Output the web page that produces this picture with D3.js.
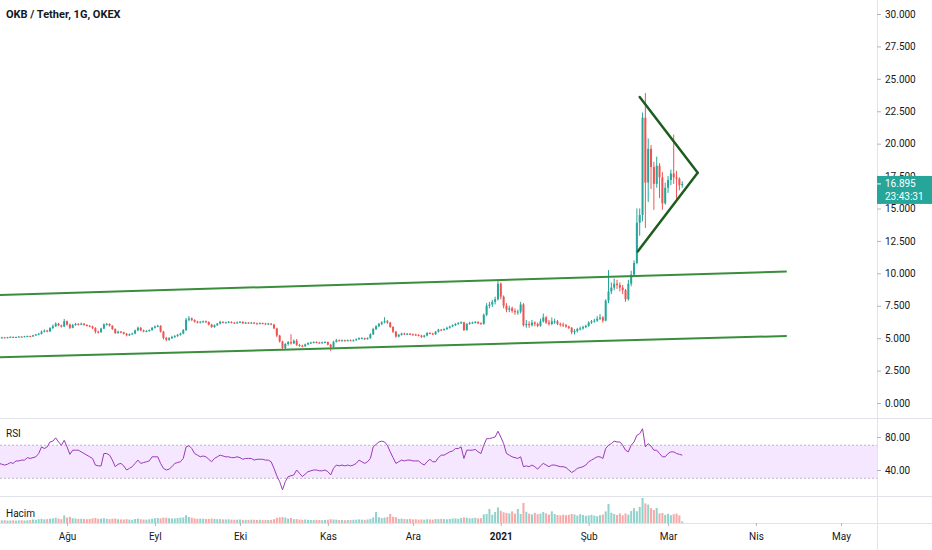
<!DOCTYPE html>
<html><head><meta charset="utf-8">
<script src="https://cdn.jsdelivr.net/npm/d3@7"></script>
<style>body{margin:0;background:#fff}svg{display:block}</style>
</head><body>
<svg id="c" width="932" height="550"></svg>
<script>
// ---------- data ----------
const title = "OKB / Tether, 1G, OKEX";
const startDate = "2020-07-08";
const firstOpen = 5.10;
const closes = [
5.02,5.06,5.03,5.07,5.10,5.06,5.09,5.12,5.10,5.14,
5.16,5.13,5.22,5.28,5.34,5.50,5.58,5.52,5.78,5.92,
6.12,5.98,5.90,6.30,6.05,5.80,6.02,6.10,6.06,6.12,
6.02,5.96,5.90,5.78,5.50,5.46,5.74,6.06,6.10,5.96,
5.70,5.40,5.50,5.45,5.34,5.22,5.30,5.36,5.60,5.80,
5.60,5.52,5.56,5.62,5.80,5.90,5.95,5.50,5.02,4.88,
5.00,5.10,5.16,5.26,5.36,5.62,6.42,6.52,6.40,6.28,
6.20,6.26,6.30,6.24,6.05,5.86,6.00,6.12,6.26,6.20,
6.22,6.26,6.20,6.16,6.22,6.26,6.14,6.20,6.16,6.20,
6.14,6.12,6.16,6.14,6.10,6.12,6.05,5.75,5.20,4.75,
4.25,4.55,4.70,4.60,4.80,4.48,4.42,4.38,4.52,4.62,
4.66,4.70,4.66,4.64,4.68,4.70,4.50,4.32,4.72,4.84,
4.80,4.84,4.80,4.84,4.82,4.84,4.92,5.00,5.00,4.92,
5.00,5.30,5.70,5.92,6.10,6.22,6.30,6.20,5.86,5.50,
5.12,5.26,5.36,5.30,5.34,5.30,5.28,5.25,5.20,5.10,
5.20,5.40,5.36,5.30,5.50,5.66,5.62,5.70,5.80,5.90,
6.00,6.10,6.16,6.22,5.62,6.10,6.18,6.20,6.25,6.15,
6.10,6.80,7.50,7.60,7.80,8.00,9.20,8.20,7.50,7.20,
7.30,7.10,7.00,7.05,7.60,6.00,6.10,6.00,6.20,6.10,
5.95,6.30,6.60,6.20,6.10,6.30,6.30,6.10,6.05,6.00,
5.90,5.80,5.45,5.55,5.70,5.75,5.85,5.95,6.20,6.30,
6.35,6.50,6.60,6.35,7.90,8.60,8.90,9.20,9.10,8.90,
8.70,8.00,9.20,9.90,10.80,13.90,14.50,22.00,17.00,19.60,
18.20,16.90,18.30,17.40,15.40,16.60,17.20,17.70,17.40,17.30,
16.80,16.895];
const highs = [
5.14,5.10,5.09,5.10,5.14,5.13,5.12,5.16,5.15,5.18,
5.20,5.19,5.26,5.33,5.40,5.60,5.68,5.64,5.85,6.05,
6.22,6.18,6.04,6.48,6.36,6.12,6.10,6.18,6.16,6.20,
6.16,6.08,6.02,5.96,5.84,5.58,5.80,6.14,6.18,6.14,
6.00,5.76,5.58,5.56,5.50,5.40,5.36,5.42,5.66,5.90,
5.86,5.66,5.62,5.68,5.86,5.98,6.04,6.00,5.56,5.10,
5.08,5.18,5.24,5.32,5.42,5.70,6.56,6.70,6.60,6.46,
6.34,6.32,6.36,6.36,6.30,6.10,6.06,6.18,6.34,6.30,
6.28,6.32,6.30,6.24,6.28,6.32,6.30,6.26,6.24,6.26,
6.24,6.20,6.22,6.20,6.18,6.18,6.16,6.10,5.80,5.26,
4.80,4.62,4.78,5.30,4.90,4.94,4.56,4.50,4.58,4.68,
4.72,4.76,4.76,4.72,4.74,4.76,4.74,4.56,4.80,4.94,
4.90,4.90,4.88,4.90,4.90,4.90,4.98,5.06,5.08,5.04,
5.06,5.38,5.80,6.00,6.18,6.30,6.62,6.40,6.26,5.92,
5.56,5.32,5.42,5.42,5.40,5.40,5.36,5.34,5.30,5.26,
5.26,5.46,5.46,5.42,5.56,5.72,5.72,5.76,5.88,5.96,
6.06,6.16,6.24,6.30,6.26,6.16,6.26,6.28,6.32,6.30,
6.22,6.90,7.70,7.80,7.96,8.20,9.40,9.30,8.30,7.70,
7.50,7.44,7.30,7.20,7.80,7.70,6.40,6.30,6.40,6.30,
6.20,6.50,6.90,6.70,6.40,6.60,6.50,6.40,6.20,6.20,
6.10,5.96,5.86,5.70,5.80,5.90,5.96,6.04,6.30,6.40,
6.50,6.70,6.86,6.70,8.00,10.25,9.30,9.60,9.50,9.30,
9.10,8.80,9.50,10.20,11.00,15.00,15.00,22.40,23.90,20.40,
19.90,18.60,19.00,18.50,17.80,17.00,17.50,18.00,20.70,17.90,
17.40,17.10];
const lows = [
4.98,4.99,5.00,5.00,5.03,5.03,5.03,5.06,5.06,5.08,
5.10,5.09,5.10,5.18,5.22,5.28,5.44,5.45,5.48,5.70,
5.86,5.92,5.82,5.86,5.96,5.70,5.76,5.96,5.98,6.00,
5.96,5.90,5.84,5.70,5.36,5.36,5.42,5.70,5.98,5.90,
5.64,5.32,5.34,5.38,5.28,5.14,5.16,5.26,5.30,5.54,
5.54,5.46,5.46,5.50,5.58,5.74,5.84,5.44,4.90,4.76,
4.80,4.94,5.02,5.10,5.20,5.30,5.56,6.30,6.32,6.20,
6.14,6.14,6.20,6.18,5.98,5.80,5.80,5.94,6.06,6.14,
6.14,6.16,6.14,6.10,6.12,6.18,6.10,6.10,6.10,6.12,
6.08,6.06,6.08,6.08,6.04,6.04,6.00,5.70,5.08,4.66,
4.08,4.14,4.42,4.50,4.54,4.40,4.34,4.30,4.32,4.46,
4.56,4.60,4.60,4.58,4.58,4.62,4.44,4.02,4.26,4.66,
4.74,4.74,4.74,4.76,4.76,4.76,4.80,4.86,4.92,4.86,
4.88,4.96,5.24,5.62,5.84,6.00,6.14,6.10,5.80,5.40,
5.04,5.06,5.20,5.24,5.24,5.24,5.20,5.18,5.14,5.02,
5.04,5.14,5.30,5.24,5.26,5.44,5.56,5.58,5.64,5.74,
5.84,5.94,6.04,6.10,5.56,5.58,6.04,6.10,6.14,6.08,
6.04,6.04,6.70,7.30,7.40,7.60,7.90,8.00,7.30,7.00,
7.00,6.96,6.80,6.80,6.90,5.90,5.80,5.80,5.90,5.92,
5.84,5.88,6.20,6.10,5.96,6.00,6.10,6.00,5.90,5.86,
5.80,5.70,5.30,5.28,5.44,5.60,5.66,5.76,5.88,6.10,
6.20,6.26,6.40,6.20,6.30,7.70,8.40,8.70,8.80,8.60,
8.40,7.80,7.90,9.00,9.70,10.70,12.90,14.00,13.50,15.50,
16.50,14.90,16.60,15.80,14.90,15.30,16.20,16.80,16.90,15.70,
16.40,16.60];
const volumes = [
3.0,2.6,2.8,2.4,2.5,2.7,2.3,2.6,2.8,2.5,
2.7,2.9,3.5,3.2,3.8,4.2,3.6,3.9,4.3,4.6,
5.2,4.4,3.8,7.6,5.4,6.2,4.8,4.5,4.0,4.3,
4.1,3.8,4.0,4.6,5.0,4.2,4.4,4.8,4.2,3.9,
4.3,4.6,3.8,3.6,3.5,3.9,3.4,3.2,4.0,4.4,
3.8,3.5,3.4,3.7,4.2,4.8,5.0,4.6,5.4,5.2,
4.8,4.5,4.6,5.0,5.3,5.6,7.8,6.0,5.2,4.6,
4.2,4.4,4.3,4.0,4.1,4.5,4.0,3.8,3.9,3.6,
3.5,3.7,3.4,3.2,3.3,3.6,3.0,3.2,3.1,3.4,
3.2,3.0,3.3,2.9,3.1,3.0,3.2,3.8,5.2,5.6,
6.0,5.4,4.4,5.0,3.8,3.9,3.4,3.2,3.5,3.1,
3.0,2.9,3.2,3.0,2.8,3.1,3.3,3.8,3.5,3.3,
3.0,3.1,2.8,3.0,2.9,3.2,3.3,3.6,3.4,3.2,
3.5,4.2,5.6,11.0,5.8,4.9,5.4,6.0,9.0,6.2,
5.8,4.2,4.4,4.0,3.8,4.1,3.6,3.8,3.4,3.6,
3.3,3.8,3.6,3.4,4.0,3.8,4.2,3.9,3.7,4.0,
4.4,4.6,4.2,5.0,5.6,5.2,4.6,4.8,5.2,4.6,
4.8,8.6,9.0,14.0,8.2,11.0,15.6,12.2,10.8,10.0,
9.6,11.6,9.4,14.0,9.0,20.0,11.2,9.4,8.6,10.2,
8.8,9.4,11.0,9.6,8.4,11.6,9.0,8.0,7.6,8.4,
7.8,8.2,9.0,8.6,7.4,8.8,8.0,7.2,7.6,8.2,
7.4,6.8,7.8,8.4,11.6,19.0,10.2,9.0,8.0,9.6,
7.8,9.6,8.4,12.0,14.8,11.8,16.0,25.0,19.6,18.4,
14.8,13.0,15.0,9.6,10.0,8.2,9.2,7.8,8.8,9.4,
7.6,1.6];
const rsiValues = [
48,47,46,47,49,48,51,51,52,52,
55,54,55,56,60,68,66,68,74,75,
79,74,70,76,68,59,64,64,64,62,
60,58,56,54,46,45,45,60,60,58,
52,44,47,48,45,40,42,44,48,52,
48,49,50,51,56,56,56,48,42,40,
41,44,48,49,50,54,68,69.5,66,60,
58,56,57,56,53,50,54,56,58,57,
56,56,55,55,56,55,53,54,54,54,
52,53,53,53,52,52,50,42,33,26,
16,26,32,33,34,40,36,32,35,38,
39,40,40,39,39,40,38,34,42,46,
45,46,45,46,45,46,48,52,50,48,
50,54,68,71,74,75,74,70,62,55,
48,50,52,51,52,52,51,51,51,48,
46,50,53,50,50,55,58,58,60,62,
63,66,66,68,54,64,64,64,65,62,
60,70,78,78,79,80,87,80,72,60,
58,56,55,54,56,44,45,44,46,44,
41,45,48,46,44,46,46,45,44,44,
43,40,37,39,42,43,44,46,50,52,
54,56,56,54,66,70,72,75,74,74,
70,64,62,70,74,82,84,90,68,72,
69,64,64,60,56,56,60,62,62,60,
59,58];
const priceTicks = [0,2.5,5,7.5,10,12.5,15,17.5,20,22.5,25,27.5,30];
const rsiTicks = [40,80];
const rsiBand = [70,30];
const monthNames = ["Oca","Şub","Mar","Nis","May","Haz","Tem","Ağu","Eyl","Eki","Kas","Ara"];
const upperChannel = [["2020-07-08T00:00Z",8.33],["2021-04-11T21:00Z",10.14]];
const lowerChannel = [["2020-07-08T00:00Z",3.52],["2021-04-11T21:00Z",5.17]];
const triangleTop = [["2021-02-19T00:00Z",23.6],["2021-03-11T11:00Z",17.75]];
const triangleBottom = [["2021-02-18T07:00Z",11.68],["2021-03-11T11:00Z",17.75]];
const lastPrice = 16.895;
const countdown = "23:43:31";

// ---------- layout ----------
const svg = d3.select("#c");
const W = 932, H = 550, axisX = 877;
const FONT = "Roboto, 'Open Sans', sans-serif";
const TXT = "#131722";
const SEP = "#e0e3eb";

const t0 = new Date(startDate + "T00:00Z");
const x = d3.scaleUtc().domain([t0, d3.utcDay.offset(t0, 309)]).range([-1, 875]);
const yP = d3.scaleLinear().domain([0, 30]).range([403, 14]);
const yR = d3.scaleLinear().domain([40, 80]).range([470, 437]);
const yV = d3.scaleLinear().domain([0, 26]).range([523, 497]);

const candles = closes.map((c, i) => ({
  date: d3.utcDay.offset(t0, i),
  o: i === 0 ? firstOpen : closes[i - 1],
  h: highs[i], l: lows[i], c: c, v: volumes[i], r: rsiValues[i]
}));
const UP = "#26a69a", DN = "#ef5350";

const defs = svg.append("defs");
defs.append("clipPath").attr("id", "cm").append("rect").attr("x", 0).attr("y", 0).attr("width", axisX).attr("height", 418);
defs.append("clipPath").attr("id", "cr").append("rect").attr("x", 0).attr("y", 419).attr("width", axisX).attr("height", 77);
defs.append("clipPath").attr("id", "cv").append("rect").attr("x", 0).attr("y", 497).attr("width", axisX).attr("height", 26);

svg.append("rect").attr("width", W).attr("height", H).attr("fill", "#fff");

// separators
const sepG = svg.append("g").attr("stroke", SEP).attr("stroke-width", 1);
[418.5, 496.5, 523.5].forEach(yy => sepG.append("line").attr("x1", 0).attr("x2", W).attr("y1", yy).attr("y2", yy));
sepG.append("line").attr("x1", axisX + 0.5).attr("x2", axisX + 0.5).attr("y1", 0).attr("y2", H);

// ---------- main pane ----------
const gm = svg.append("g").attr("clip-path", "url(#cm)");
const bw = 2;
gm.selectAll("line.wick").data(candles).join("line").attr("class", "wick")
  .attr("x1", d => x(d.date)).attr("x2", d => x(d.date))
  .attr("y1", d => yP(d.h)).attr("y2", d => yP(d.l))
  .attr("stroke", d => d.c >= d.o ? UP : DN).attr("stroke-width", 1);
gm.selectAll("rect.body").data(candles).join("rect").attr("class", "body")
  .attr("x", d => x(d.date) - bw / 2).attr("width", bw)
  .attr("y", d => yP(Math.max(d.o, d.c)))
  .attr("height", d => Math.max(1, Math.abs(yP(d.o) - yP(d.c))))
  .attr("fill", d => d.c >= d.o ? UP : DN);

const ln = d3.line().x(d => x(new Date(d[0]))).y(d => yP(d[1]));
[upperChannel, lowerChannel].forEach(p => gm.append("path").attr("d", ln(p))
  .attr("stroke", "#388e3c").attr("stroke-width", 2).attr("fill", "none"));
[triangleTop, triangleBottom].forEach(p => gm.append("path").attr("d", ln(p))
  .attr("stroke", "#1b5e20").attr("stroke-width", 2.5).attr("fill", "none").attr("stroke-linecap", "round"));

// title
svg.append("text").attr("x", 6).attr("y", 18).text(title)
  .attr("font-family", FONT).attr("font-size", 11).attr("font-weight", 700).attr("fill", TXT);

// price axis
const pa = svg.append("g").attr("transform", `translate(${axisX},0)`)
  .call(d3.axisRight(yP).tickValues(priceTicks).tickFormat(d3.format(".3f")).tickSize(4).tickPadding(4));
pa.select(".domain").remove();
pa.selectAll(".tick line").attr("stroke", "#b2b5be");
pa.selectAll("text").attr("font-family", FONT).attr("font-size", 10).attr("fill", TXT);

// last price label
const lp = svg.append("g");
lp.append("rect").attr("x", axisX).attr("y", yP(lastPrice) - 8).attr("width", W - axisX).attr("height", 28).attr("fill", UP);
lp.append("line").attr("x1", axisX).attr("x2", axisX + 4).attr("y1", yP(lastPrice)).attr("y2", yP(lastPrice)).attr("stroke", "#fff");
lp.append("text").attr("x", axisX + 8).attr("y", yP(lastPrice)).attr("dy", "0.35em").text(d3.format(".3f")(lastPrice))
  .attr("font-family", FONT).attr("font-size", 10).attr("fill", "#fff");
lp.append("text").attr("x", axisX + 8).attr("y", yP(lastPrice) + 13).attr("dy", "0.35em").text(countdown)
  .attr("font-family", FONT).attr("font-size", 10).attr("fill", "#fff");

// ---------- RSI pane ----------
const gr = svg.append("g").attr("clip-path", "url(#cr)");
gr.append("rect").attr("x", 0).attr("width", axisX).attr("y", yR(rsiBand[0])).attr("height", yR(rsiBand[1]) - yR(rsiBand[0]))
  .attr("fill", "rgba(153,21,255,0.1)");
rsiBand.forEach(v => gr.append("line").attr("x1", 0).attr("x2", axisX).attr("y1", yR(v)).attr("y2", yR(v))
  .attr("stroke", "#bdb4c6").attr("stroke-dasharray", "2,2"));
gr.append("path").datum(candles).attr("d", d3.line().x(d => x(d.date)).y(d => yR(d.r)))
  .attr("fill", "none").attr("stroke", "#9c3ab8").attr("stroke-width", 1);
svg.append("text").attr("x", 6).attr("y", 433).attr("dy", "0.35em").text("RSI")
  .attr("font-family", FONT).attr("font-size", 10).attr("fill", TXT);
const ra = svg.append("g").attr("transform", `translate(${axisX},0)`)
  .call(d3.axisRight(yR).tickValues(rsiTicks).tickFormat(d3.format(".2f")).tickSize(4).tickPadding(4));
ra.select(".domain").remove();
ra.selectAll(".tick line").attr("stroke", "#b2b5be");
ra.selectAll("text").attr("font-family", FONT).attr("font-size", 10).attr("fill", TXT);

// ---------- volume pane ----------
const gv = svg.append("g").attr("clip-path", "url(#cv)");
gv.selectAll("rect").data(candles).join("rect")
  .attr("x", d => x(d.date) - bw / 2).attr("width", bw)
  .attr("y", d => yV(d.v)).attr("height", d => yV(0) - yV(d.v))
  .attr("fill", d => d.c >= d.o ? "rgba(38,166,154,0.5)" : "rgba(239,83,80,0.5)");
svg.append("text").attr("x", 6).attr("y", 513).attr("dy", "0.35em").text("Hacim")
  .attr("font-family", FONT).attr("font-size", 10).attr("fill", TXT);

// ---------- time axis ----------
const xa = svg.append("g").attr("transform", "translate(0,523)")
  .call(d3.axisBottom(x).ticks(d3.utcMonth.every(1))
    .tickFormat(d => d.getUTCMonth() === 0 ? String(d.getUTCFullYear()) : monthNames[d.getUTCMonth()])
    .tickSize(3).tickPadding(7));
xa.select(".domain").remove();
xa.selectAll(".tick line").attr("stroke", "#b2b5be");
xa.selectAll("text").attr("font-family", FONT).attr("font-size", 10).attr("fill", TXT)
  .attr("font-weight", d => d.getUTCMonth() === 0 ? 700 : 400);
xa.selectAll(".tick").filter(d => x(d) < 5 || x(d) > axisX - 5).remove();
</script>
</body></html>
